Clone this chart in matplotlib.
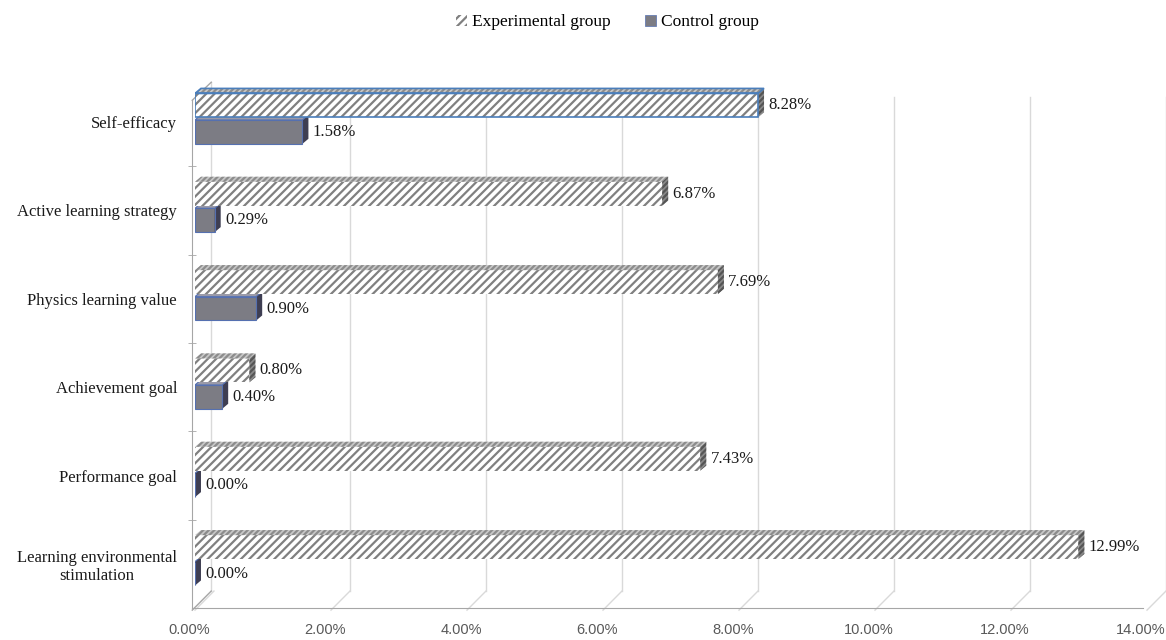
import matplotlib
matplotlib.use('Agg')
import matplotlib.pyplot as plt
import matplotlib.transforms as mtransforms
from matplotlib.patches import Polygon, Patch
from matplotlib.ticker import FixedLocator, FuncFormatter

plt.rcParams['font.family'] = ['Liberation Serif', 'DejaVu Serif']
plt.rcParams['hatch.linewidth'] = 1.6

# categories listed bottom to top
categories = ['Learning environmental\nstimulation', 'Performance goal', 'Achievement goal',
              'Physics learning value', 'Active learning strategy', 'Self-efficacy']
experimental = [12.99, 7.43, 0.80, 7.69, 6.87, 8.28]
control = [0.00, 0.00, 0.40, 0.90, 0.29, 1.58]
x_ticks = [0, 2, 4, 6, 8, 10, 12, 14]

fig = plt.figure(figsize=(11.66, 6.40), dpi=100)
ax = fig.add_axes([195 / 1166, 32 / 640, 952 / 1166, 530 / 640])
ax.set_xlim(0, 14)
ax.set_ylim(-0.5, 5.5)

h = 0.27            # bar thickness
ddx, ddy = 0.088, 0.057   # fake 3d depth of each bar
back_dx, back_dy = 0.279, 0.032  # shift from front floor to back wall

frame = '#a6a6a6'
grid = '#d9d9d9'

# back wall gridlines and floor slants
for k in x_ticks[1:]:
    ax.plot([k + back_dx, k + back_dx], [back_dy, 0.964], color=grid, lw=1,
            transform=ax.get_xaxis_transform(), clip_on=False, zorder=0)
for k in x_ticks:
    ax.plot([k, k + back_dx], [-0.004, back_dy], color=grid, lw=1,
            transform=ax.get_xaxis_transform(), clip_on=False, zorder=0)

# left wall
wx = -0.04
ax.plot([wx + back_dx, wx + back_dx], [back_dy, 0.992], color=grid, lw=1,
        transform=ax.get_xaxis_transform(), clip_on=False, zorder=0)
ax.plot([wx, wx + back_dx], [0.958, 0.992], color=frame, lw=1,
        transform=ax.get_xaxis_transform(), clip_on=False, zorder=0)
ax.plot([wx, wx + back_dx], [-0.004, back_dy], color=frame, lw=1,
        transform=ax.get_xaxis_transform(), clip_on=False, zorder=0)


def draw_bar(yc, v, front, top, side, edge='none', lw=0, hatch=None, hatch_edge='none', z=2):
    yb, yt = yc - h / 2, yc + h / 2
    ax.barh(yc, v, height=h, left=0, color=front, hatch=hatch, edgecolor=hatch_edge,
            linewidth=0, zorder=z)
    if edge != 'none':
        ax.barh(yc, v, height=h, left=0, fill=False, edgecolor=edge, linewidth=lw, zorder=z + 0.1)
    ax.add_patch(Polygon([(0, yt), (v, yt), (v + ddx, yt + ddy), (ddx, yt + ddy)],
                         closed=True, facecolor=top[0], edgecolor=top[1], hatch=top[2],
                         linewidth=0, zorder=z))
    ax.add_patch(Polygon([(v, yb), (v, yt), (v + ddx, yt + ddy), (v + ddx, yb + ddy)],
                         closed=True, facecolor=side[0], edgecolor=side[1], hatch=side[2],
                         linewidth=0, zorder=z))
    if edge != 'none':
        ax.add_patch(Polygon([(0, yt), (v, yt), (v + ddx, yt + ddy), (ddx, yt + ddy)],
                             closed=True, fill=False, edgecolor=edge, linewidth=lw, zorder=z + 0.1))


for i, (e, c) in enumerate(zip(experimental, control)):
    # control bar first so the experimental bar sits in front of its top face
    yc = i - 0.11
    draw_bar(yc, c, '#7c7c84', ('#9a9aa8', 'none', None), ('#3e3e52', 'none', None),
             edge='#5570b0', lw=0.8, z=2)
    ax.text(c + 0.15, yc, f'{c:.2f}%', va='center', ha='left', fontsize=12, color='#1a1a1a')

    ye = i + 0.19
    outline = '#4a7ebb' if i == len(categories) - 1 else 'none'
    draw_bar(ye, e, 'white', ('#c8c8c8', '#8c8c8c', '//////'), ('#8a8a8a', '#555555', '//////'),
             edge=outline, lw=1.2, hatch='////', hatch_edge='#808080', z=3)
    ax.text(e + 0.15, ye, f'{e:.2f}%', va='center', ha='left', fontsize=12, color='#1a1a1a')

# axes styling
for s in ['top', 'right']:
    ax.spines[s].set_visible(False)
ax.spines['left'].set_position(('data', wx))
ax.spines['left'].set_bounds(-0.5, 5.25)
ax.spines['left'].set_color(frame)
ax.spines['bottom'].set_bounds(wx, 13.94)
ax.spines['bottom'].set_color(frame)

ax.set_yticks(range(len(categories)))
ax.set_yticklabels(categories, fontsize=12, color='#1a1a1a')
for t in ax.get_yticklabels():
    t.set_multialignment('center')
ax.yaxis.set_minor_locator(FixedLocator([k + 0.5 for k in range(len(categories) - 1)]))
ax.tick_params(axis='y', which='major', length=0, pad=11)
ax.tick_params(axis='y', which='minor', length=6, direction='inout', color=frame)

ax.set_xticks(x_ticks)
ax.xaxis.set_major_formatter(FuncFormatter(lambda v, p: f'{v:.2f}%'))
ax.tick_params(axis='x', length=0, pad=11, labelsize=10.5, labelcolor='#595959')
shift = mtransforms.ScaledTranslation(-6 / 100, 0, fig.dpi_scale_trans)
for t in ax.get_xticklabels():
    t.set_fontfamily(['Liberation Sans', 'DejaVu Sans'])
    t.set_transform(t.get_transform() + shift)

handles = [Patch(facecolor='white', edgecolor='#808080', hatch='////', linewidth=0),
           Patch(facecolor='#7c7c84', edgecolor='#5570b0', linewidth=0.5)]
fig.legend(handles, ['Experimental group', 'Control group'], loc='center',
           bbox_to_anchor=(0.521, 0.965), ncol=2, frameon=False, fontsize=12.5,
           handlelength=0.6, handleheight=0.6, handletextpad=0.3, columnspacing=2.0)

fig.savefig('out.png', dpi=100)
